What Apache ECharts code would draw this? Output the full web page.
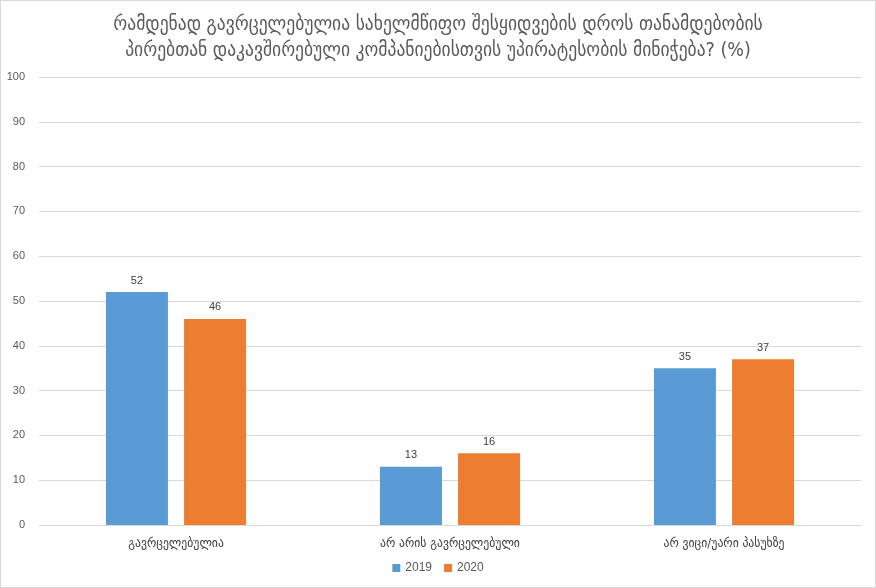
<!DOCTYPE html>
<html><head><meta charset="utf-8">
<script src="https://cdn.jsdelivr.net/npm/echarts@6/dist/echarts.min.js"></script>
<style>html,body{margin:0;padding:0;background:#fff}#c{width:876px;height:588px;box-sizing:border-box;border:1px solid #d9d9d9}</style>
</head><body><div id="c"></div>
<script>
const titleText = "რამდენად გავრცელებულია სახელმწიფო შესყიდვების დროს თანამდებობის\nპირებთან დაკავშირებული კომპანიებისთვის უპირატესობის მინიჭება? (%)";
const categories = ["გავრცელებულია", "არ არის გავრცელებული", "არ ვიცი/უარი პასუხზე"];
const values2019 = [52, 13, 35];
const values2020 = [46, 16, 37];
const seriesNames = ["2019", "2020"];

const chart = echarts.init(document.getElementById('c'));
const lbl = {show:true, position:'top', color:'#404040', fontSize:11, fontFamily:'Liberation Sans, sans-serif', distance:6};
chart.setOption({
  animation:false,
  title:{text:titleText, left:'center', top:6, textStyle:{fontFamily:'DejaVu Sans Condensed, DejaVu Sans', fontSize:19.5, fontWeight:'normal', color:'#595959', lineHeight:26}},
  legend:{bottom:8, left:'center', itemWidth:8, itemHeight:8, itemGap:12, icon:'rect', textStyle:{color:'#595959', fontSize:12, fontFamily:'Liberation Sans, sans-serif'}},
  grid:{left:38, right:14, top:76, bottom:62, containLabel:false},
  xAxis:{type:'category', data:categories, axisTick:{show:false}, axisLine:{lineStyle:{color:'#d9d9d9'}},
    axisLabel:{color:'#404040', fontSize:13, margin:12, fontFamily:'DejaVu Sans Condensed, DejaVu Sans'}},
  yAxis:{type:'value', min:0, max:100, interval:10, axisLine:{show:false}, axisTick:{show:false},
    splitLine:{lineStyle:{color:'#d9d9d9'}}, axisLabel:{color:'#595959', fontSize:11, margin:14, fontFamily:'Liberation Sans, sans-serif'}},
  series:[
    {name:seriesNames[0], type:'bar', data:values2019, barWidth:62, barGap:'26%', itemStyle:{color:'#5b9bd5'}, label:lbl},
    {name:seriesNames[1], type:'bar', data:values2020, barWidth:62, itemStyle:{color:'#ed7d31'}, label:lbl}
  ]
});
</script></body></html>
